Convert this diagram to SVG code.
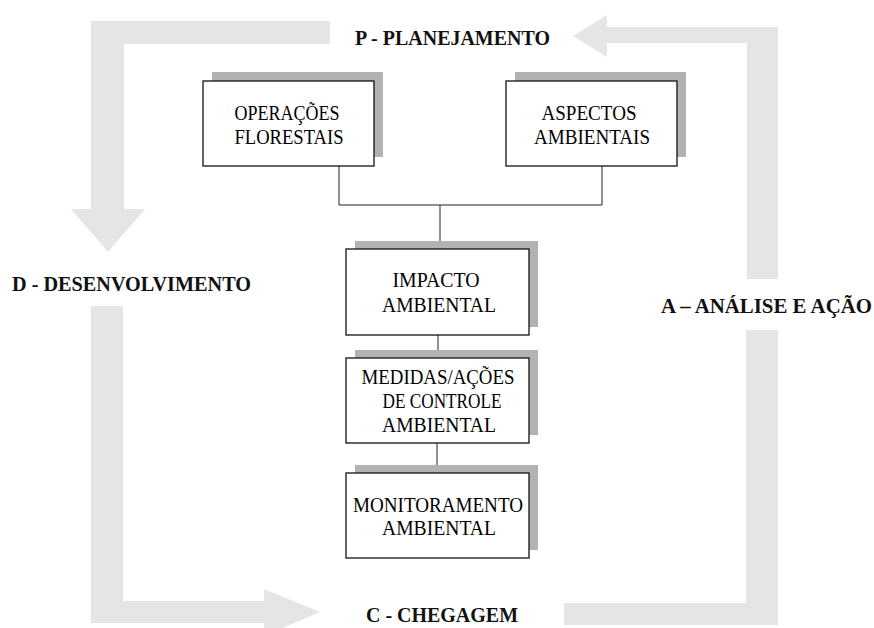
<svg xmlns="http://www.w3.org/2000/svg" width="874" height="628" viewBox="0 0 874 628">
<style>
.arrow{fill:#e5e5e5}
.shadow{fill:#b2b2b2}
.box{fill:#fff;stroke:#111;stroke-width:1.3}
.lbl{font-family:"Liberation Serif","Times New Roman",serif;font-weight:bold;font-size:21px;fill:#111}
.txt{font-family:"Liberation Serif","Times New Roman",serif;font-size:21px;fill:#000;text-anchor:middle}
.conn{fill:none;stroke:#222;stroke-width:1}
</style>
<rect width="874" height="628" fill="#fff"/>
<g id="cycle-arrows">
<polygon class="arrow" points="330,21 91,21 91,209 71,209 108,252 145,209 124,209 124,44 330,44"/>
<polygon class="arrow" points="778,279 778,27 607,27 607,15 573,36 607,57 607,43 747,43 747,279"/>
<polygon class="arrow" points="91,306 91,623 264,623 264,636 320,612 264,589 264,601 123,601 123,306"/>
<polygon class="arrow" points="564,603 564,625 778,625 778,330 746,330 746,603"/>
</g>
<g id="labels">
<text class="lbl" x="355" y="45" textLength="195" lengthAdjust="spacingAndGlyphs">P - PLANEJAMENTO</text>
<text class="lbl" x="12" y="291" textLength="239" lengthAdjust="spacingAndGlyphs">D - DESENVOLVIMENTO</text>
<text class="lbl" x="661" y="313" textLength="211" lengthAdjust="spacingAndGlyphs">A – ANÁLISE E AÇÃO</text>
<text class="lbl" x="366" y="622" textLength="152" lengthAdjust="spacingAndGlyphs">C - CHEGAGEM</text>
</g>
<g id="connectors">
<polyline class="conn" points="339,166 339,205 602,205 602,166"/>
<line class="conn" x1="440" y1="205" x2="440" y2="241"/>
<line class="conn" x1="438" y1="335" x2="438" y2="350"/>
<line class="conn" x1="437" y1="443" x2="437" y2="465"/>
</g>
<g id="operacoes">
<rect class="shadow" x="212" y="72" width="171" height="85"/>
<rect class="box" x="203" y="81" width="171" height="85"/>
<text class="txt" x="287" y="120" textLength="105" lengthAdjust="spacingAndGlyphs">OPERAÇÕES</text>
<text class="txt" x="289" y="144" textLength="109" lengthAdjust="spacingAndGlyphs">FLORESTAIS</text>
</g>
<g id="aspectos">
<rect class="shadow" x="515" y="72" width="171" height="85"/>
<rect class="box" x="506" y="81" width="171" height="85"/>
<text class="txt" x="589" y="120" textLength="95" lengthAdjust="spacingAndGlyphs">ASPECTOS</text>
<text class="txt" x="592" y="144" textLength="116" lengthAdjust="spacingAndGlyphs">AMBIENTAIS</text>
</g>
<g id="impacto">
<rect class="shadow" x="355" y="241" width="183" height="86"/>
<rect class="box" x="346" y="249" width="183" height="86"/>
<text class="txt" x="436" y="287" textLength="87" lengthAdjust="spacingAndGlyphs">IMPACTO</text>
<text class="txt" x="439" y="312" textLength="114" lengthAdjust="spacingAndGlyphs">AMBIENTAL</text>
</g>
<g id="medidas">
<rect class="shadow" x="355" y="350" width="183" height="85"/>
<rect class="box" x="346" y="358" width="183" height="85"/>
<text class="txt" x="438" y="384" textLength="153" lengthAdjust="spacingAndGlyphs">MEDIDAS/AÇÕES</text>
<text class="txt" x="442" y="408" textLength="119" lengthAdjust="spacingAndGlyphs">DE CONTROLE</text>
<text class="txt" x="439" y="432" textLength="114" lengthAdjust="spacingAndGlyphs">AMBIENTAL</text>
</g>
<g id="monitoramento">
<rect class="shadow" x="355" y="465" width="183" height="85"/>
<rect class="box" x="346" y="473" width="183" height="85"/>
<text class="txt" x="438" y="512" textLength="170" lengthAdjust="spacingAndGlyphs">MONITORAMENTO</text>
<text class="txt" x="439" y="535" textLength="114" lengthAdjust="spacingAndGlyphs">AMBIENTAL</text>
</g>
</svg>
